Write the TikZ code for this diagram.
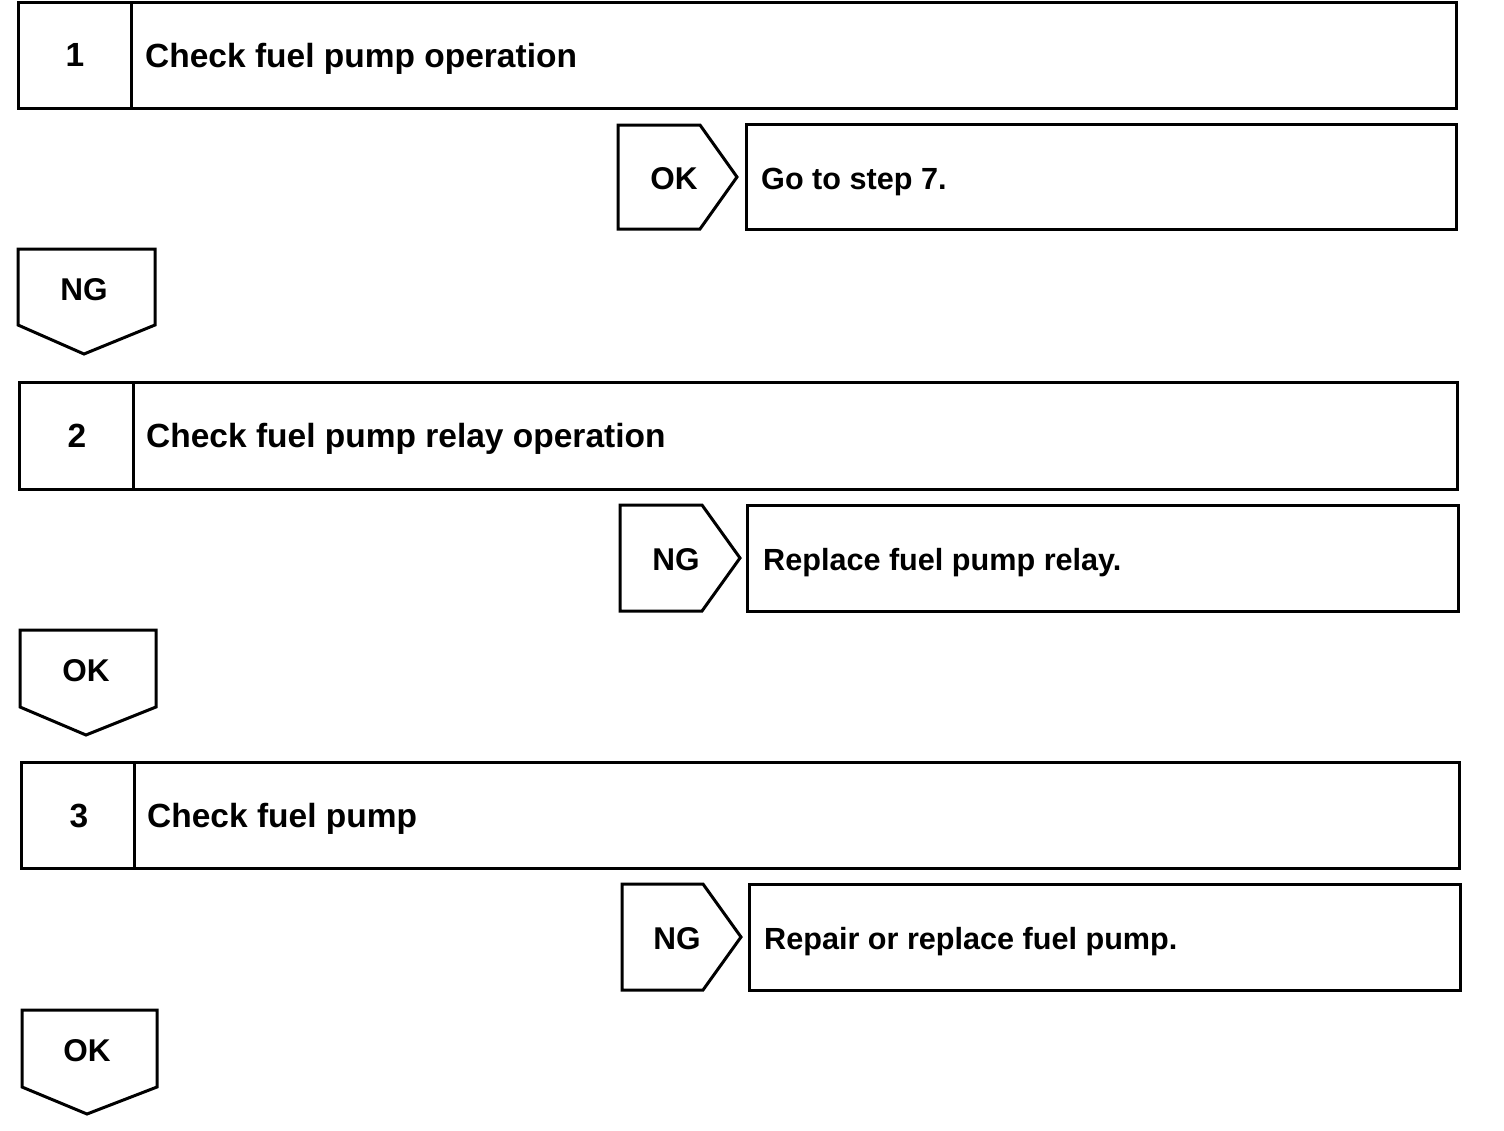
\documentclass[tikz,border=0pt]{standalone}
\usepackage{fontspec}
\setmainfont{Liberation Sans}
\begin{document}
\begin{tikzpicture}[x=1pt,y=-1pt,
  box/.style={draw=black,line width=3pt,line join=miter},
  lbl/.style={inner sep=0pt,anchor=base,font=\fontsize{33.5}{40}\selectfont\bfseries},
  tag/.style={lbl,font=\fontsize{31.5}{38}\selectfont\bfseries},
  txt/.style={lbl,anchor=base west},
  res/.style={lbl,anchor=base west,font=\fontsize{30.6}{37}\selectfont\bfseries}]
\useasboundingbox (0,0) rectangle (1504,1130);
% ---------- step 1
\draw[box] (18,2) rectangle (1456,108);
\draw[box] (131,2) -- (131,108);
\node[lbl] (n1) at (75,66) {1};
\node[txt] (t1) at (145,67) {Check fuel pump operation};
\draw[box] (618,125) -- (700,125) -- (737,177) -- (700,229) -- (618,229) -- cycle;
\node[tag] (ok1) at (674,189) {OK};
\draw[box] (746,124) rectangle (1456,229);
\node[res] (r1) at (761,189) {Go to step 7.};
\draw[box] (18,249) -- (155,249) -- (155,325) -- (84,354) -- (18,325) -- cycle;
\node[tag] (ng1) at (84,300) {NG};
% ---------- step 2
\draw[box] (19,382) rectangle (1457,489);
\draw[box] (133,382) -- (133,489);
\node[lbl] (n2) at (77,447) {2};
\node[txt] (t2) at (146,447) {Check fuel pump relay operation};
\draw[box] (620,505) -- (702,505) -- (740,558) -- (702,611) -- (620,611) -- cycle;
\node[tag] (ng2) at (676,570) {NG};
\draw[box] (747,505) rectangle (1458,611);
\node[res] (r2) at (763,570) {Replace fuel pump relay.};
\draw[box] (20,630) -- (156,630) -- (156,707) -- (86,735) -- (20,707) -- cycle;
\node[tag] (ok2) at (86,681) {OK};
% ---------- step 3
\draw[box] (21,762) rectangle (1459,868);
\draw[box] (134,762) -- (134,868);
\node[lbl] (n3) at (79,827) {3};
\node[txt] (t3) at (147,827) {Check fuel pump};
\draw[box] (622,884) -- (703,884) -- (741,937) -- (703,990) -- (622,990) -- cycle;
\node[tag] (ng3) at (677,949) {NG};
\draw[box] (749,884) rectangle (1460,990);
\node[res] (r3) at (764,949) {Repair or replace fuel pump.};
\draw[box] (22,1010) -- (157,1010) -- (157,1087) -- (87,1114) -- (22,1087) -- cycle;
\node[tag] (ok3) at (87,1061) {OK};
\end{tikzpicture}
\end{document}
